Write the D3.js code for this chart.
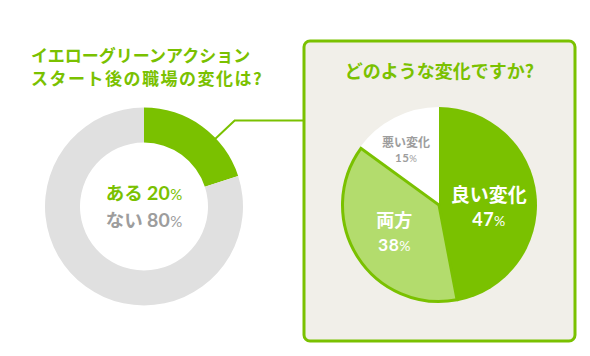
<!DOCTYPE html>
<html><head><meta charset="utf-8">
<script src="https://cdn.jsdelivr.net/npm/d3@7"></script>
<style>
html,body{margin:0;padding:0;background:#fff;}
svg{display:block;}
text{font-family:"Noto Sans CJK JP","Noto Sans",sans-serif;font-weight:bold;}
.num{font-family:Lato,"Noto Sans",sans-serif;}
</style></head>
<body>
<script>
// ---- data ----
const leftTitle = ["イエローグリーンアクション", "スタート後の職場の変化は?"];
const leftCategories = ["ある", "ない"];
const leftValues = [20, 80];
const rightTitle = "どのような変化ですか?";
const rightCategories = ["良い変化", "両方", "悪い変化"];
const rightValues = [47, 38, 15];

// ---- style ----
const GREEN = "#7ac100", LIGHT = "#b3dc6d", GRAY = "#e0e0e0", PANEL = "#f1efe9", TXTGRAY = "#9d9d9d";
const W = 590, H = 356;
const svg = d3.select("body").append("svg").attr("width", W).attr("height", H);

// ---- left donut ----
const lc = {x: 144, y: 206.5};
const lpie = d3.pie().sort(null).value(d => d)(leftValues);
const larc = d3.arc().innerRadius(64).outerRadius(99);
const lg = svg.append("g").attr("transform", `translate(${lc.x},${lc.y})`);
lg.selectAll("path").data(lpie).join("path")
  .attr("d", larc).attr("fill", (d, i) => i === 0 ? GREEN : GRAY);

// connector from "ある" slice to panel
const connAngle = 46.5 * Math.PI / 180;
const r0 = 94, r1 = 125;
const p0 = [lc.x + r0 * Math.sin(connAngle), lc.y - r0 * Math.cos(connAngle)];
const p1 = [lc.x + r1 * Math.sin(connAngle), lc.y - r1 * Math.cos(connAngle)];
const panel = {x: 304, y: 41, w: 271, h: 300};
svg.append("path")
  .attr("d", d3.line()([p0, p1, [panel.x, p1[1]]]))
  .attr("fill", "none").attr("stroke", GREEN).attr("stroke-width", 2);

// left center labels (one text, two lines)
const lcol = [GREEN, TXTGRAY];
const lt = lg.append("text").attr("text-anchor", "middle").attr("font-size", 18.5);
leftCategories.forEach((c, i) => {
  lt.append("tspan").attr("x", 0).attr("y", i === 0 ? -7 : 20.5)
    .attr("fill", lcol[i]).text(c + " ");
  lt.append("tspan").attr("class", "num").attr("fill", lcol[i]).attr("font-size", 19.5)
    .attr("letter-spacing", 0.3).text(leftValues[i]);
  lt.append("tspan").attr("class", "num").attr("fill", lcol[i]).attr("font-size", 15)
    .attr("font-weight", "normal").text("%");
});

// left title
leftTitle.forEach((s, i) => {
  svg.append("text").attr("x", 31).attr("y", 62 + i * 23)
    .attr("font-size", 17).attr("letter-spacing", i === 1 ? 1.5 : 0)
    .attr("fill", GREEN).text(s);
});

// ---- right panel ----
svg.append("rect").attr("x", panel.x).attr("y", panel.y)
  .attr("width", panel.w).attr("height", panel.h).attr("rx", 6)
  .attr("fill", PANEL).attr("stroke", GREEN).attr("stroke-width", 3);

svg.append("text").attr("x", 439.5).attr("y", 78).attr("text-anchor", "middle")
  .attr("font-size", 18).attr("fill", GREEN).text(rightTitle);

const rc = {x: 439, y: 205};
const rpie = d3.pie().sort(null).value(d => d)(rightValues);
const rg = svg.append("g").attr("transform", `translate(${rc.x},${rc.y})`);
const fills = [GREEN, LIGHT, "#ffffff"];
const radii = [98, 96.5, 98];
rg.selectAll("path").data(rpie).join("path")
  .attr("d", (d, i) => d3.arc().innerRadius(0).outerRadius(radii[i])(d))
  .attr("fill", (d, i) => fills[i]);
// highlighted slice on top, with outline
rg.append("path").datum(rpie[1])
  .attr("d", d3.arc().innerRadius(0).outerRadius(radii[1]))
  .attr("fill", LIGHT).attr("stroke", GREEN).attr("stroke-width", 3);

// labels
const labelR = [50, 53, 64];
const labelStyle = [
  {fs: 19, nfs: 18, pfs: 14, col: "#fff", gap: 24, y1: 2, dx: 0},
  {fs: 18, nfs: 17.5, pfs: 14, col: "#fff", gap: 23.5, y1: -6, dx: 0},
  {fs: 12, nfs: 11.5, pfs: 9.5, col: TXTGRAY, gap: 15.5, y1: -1, dx: -4}
];
rpie.forEach((d, i) => {
  const a = (d.startAngle + d.endAngle) / 2;
  const s = labelStyle[i];
  const cx = labelR[i] * Math.sin(a) + s.dx, cy = -labelR[i] * Math.cos(a);
  const t = rg.append("text").attr("text-anchor", "middle")
    .attr("transform", `translate(${cx},${cy})`).attr("fill", s.col);
  t.append("tspan").attr("x", 0).attr("y", s.y1).attr("font-size", s.fs).text(rightCategories[i]);
  t.append("tspan").attr("class", "num").attr("x", 0).attr("y", s.y1 + s.gap).attr("font-size", s.nfs)
    .attr("letter-spacing", 0.5).text(rightValues[i]);
  t.append("tspan").attr("class", "num").attr("font-size", s.pfs).attr("font-weight", "normal").text("%");
});
</script>
</body></html>
